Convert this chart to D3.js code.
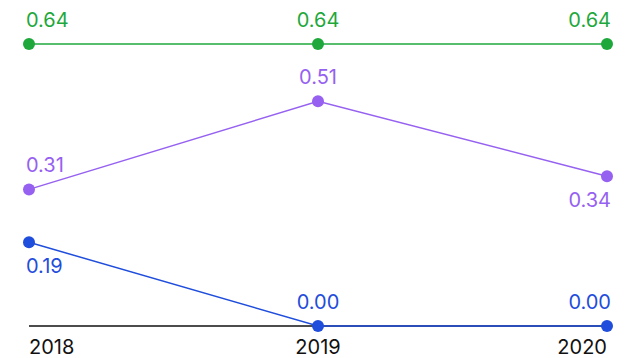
<!DOCTYPE html>
<html>
<head>
<meta charset="utf-8">
<script src="https://cdn.jsdelivr.net/npm/d3@7"></script>
<style>
  html, body { margin: 0; padding: 0; background: #fff; }
  svg { display: block; font-family: Inter, "Liberation Sans", sans-serif; }
</style>
</head>
<body>
<div id="chart"></div>
<script>
const years = ['2018', '2019', '2020'];
const greenValues = [0.64, 0.64, 0.64];
const purpleValues = [0.31, 0.51, 0.34];
const blueValues = [0.19, 0.00, 0.00];

const series = [
  { name: 'green', values: greenValues, color: '#1ea83c', pos: ['up', 'up', 'up'] },
  { name: 'purple', values: purpleValues, color: '#9661f1', pos: ['up', 'up', 'down'] },
  { name: 'blue', values: blueValues, color: '#1f4ddc', pos: ['down', 'up', 'up'] }
];

const W = 634, H = 358;
const m = { top: 44, right: 27, bottom: 32, left: 29 };

const svg = d3.select('#chart').append('svg')
  .attr('width', W).attr('height', H);

const x = d3.scalePoint().domain(years).range([m.left, W - m.right]);
const y = d3.scaleLinear().domain([0, 0.64]).range([H - m.bottom, m.top]);

// trục x
svg.append('line')
  .attr('x1', x('2018')).attr('x2', x('2020'))
  .attr('y1', y(0)).attr('y2', y(0))
  .attr('stroke', '#111').attr('stroke-width', 1.5);

svg.selectAll('.xlbl').data(years).join('text')
  .attr('x', d => x(d))
  .attr('y', H - 4)
  .attr('text-anchor', (d, i) => i === 0 ? 'start' : (i === years.length - 1 ? 'end' : 'middle'))
  .attr('font-size', '20px').attr('fill', '#111')
  .text(d => d);

const line = d3.line().x((d, i) => x(years[i])).y(d => y(d));

series.forEach(s => {
  const g = svg.append('g');
  g.append('path').datum(s.values)
    .attr('d', line).attr('fill', 'none')
    .attr('stroke', s.color).attr('stroke-width', 1.5);

  g.selectAll('circle').data(s.values).join('circle')
    .attr('cx', (d, i) => x(years[i])).attr('cy', d => y(d))
    .attr('r', 6).attr('fill', s.color);

  g.selectAll('text').data(s.values).join('text')
    .attr('x', (d, i) => x(years[i]) + (i === 0 ? -3 : (i === years.length - 1 ? 4 : 0)))
    .attr('y', (d, i) => y(d) + (s.pos[i] === 'up' ? -17 : 31))
    .attr('text-anchor', (d, i) => i === 0 ? 'start' : (i === years.length - 1 ? 'end' : 'middle'))
    .attr('font-size', '20px').attr('fill', s.color)
    .text(d => d.toFixed(2));
});
</script>
</body>
</html>
